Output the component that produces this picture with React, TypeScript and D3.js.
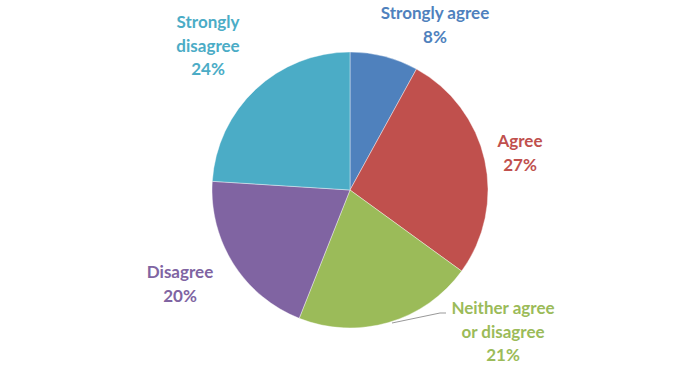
import React from "react";
import * as d3 from "d3";

const categories = ["Strongly agree", "Agree", "Neither agree or disagree", "Disagree", "Strongly disagree"];
const values = [8, 27, 21, 20, 24];
const colors = ["#4F81BD", "#C0504D", "#9BBB59", "#8064A2", "#4BACC6"];
const labelLines = [
  ["Strongly agree", "8%"],
  ["Agree", "27%"],
  ["Neither agree", "or disagree", "21%"],
  ["Disagree", "20%"],
  ["Strongly", "disagree", "24%"],
];
const labelPos: [number, number][] = [
  [435, 19],
  [520, 147],
  [503, 314],
  [180, 278],
  [208, 28],
];

export default function App() {
  const W = 700, H = 370;
  const cx = 350, cy = 190, r = 138;
  const pie = d3.pie<number>().sort(null).value((d) => d);
  const arcs = pie(values);
  const arc = d3.arc<d3.PieArcDatum<number>>().innerRadius(0).outerRadius(r);
  return (
    <svg width={W} height={H} style={{ position: "absolute", left: 0, top: 0, background: "#fff" }}>
      <g transform={`translate(${cx},${cy})`}>
        {arcs.map((d, i) => (
          <path key={categories[i]} d={arc(d) || ""} fill={colors[i]} stroke="#fff" strokeWidth={0.4} />
        ))}
      </g>
      <path d={`M392,323 L440,313 L446,313`} stroke="#999" strokeWidth={1} fill="none" />
      {labelLines.map((lines, i) => (
        <text
          key={i}
          x={labelPos[i][0]}
          y={labelPos[i][1]}
          textAnchor="middle"
          fill={colors[i]}
          fontFamily="Lato, 'Open Sans', sans-serif"
          fontWeight="bold"
          fontSize={17}
        >
          {lines.map((t, j) => (
            <tspan key={j} x={labelPos[i][0]} dy={j === 0 ? 0 : 23.5}>
              {t}
            </tspan>
          ))}
        </text>
      ))}
    </svg>
  );
}
